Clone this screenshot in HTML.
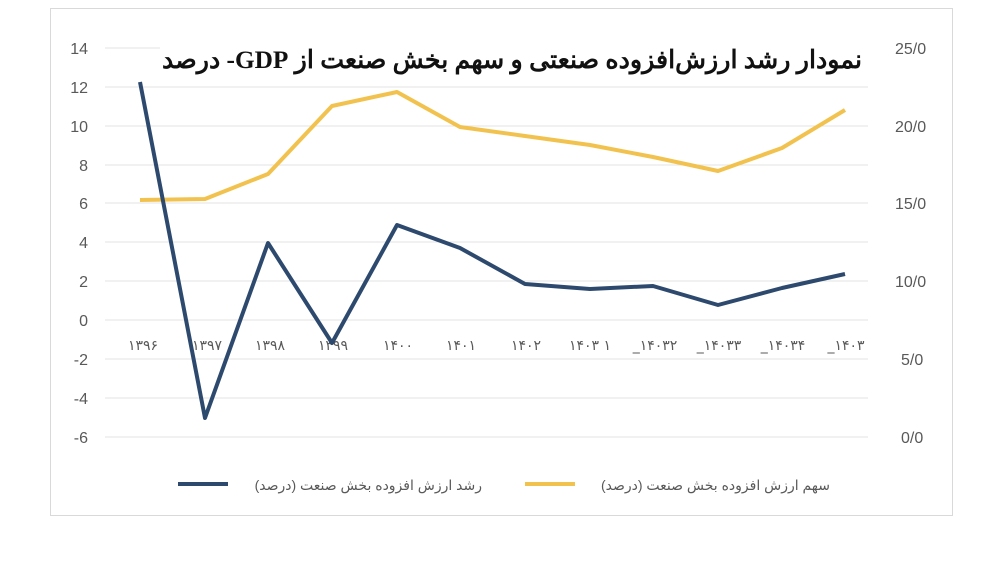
<!DOCTYPE html>
<html><head><meta charset="utf-8"><style>
body{margin:0;background:#fff;width:1003px;height:567px;overflow:hidden}
</style></head><body>
<svg width="1003" height="567" xmlns="http://www.w3.org/2000/svg" font-family="Liberation Sans, DejaVu Sans, sans-serif">
<rect x="50.5" y="8.5" width="902" height="507" fill="#fff" stroke="#d9d9d9"/>
<g stroke="#e3e3e3" stroke-width="1">
<line x1="105" x2="868" y1="48" y2="48"/><line x1="105" x2="868" y1="87" y2="87"/>
<line x1="105" x2="868" y1="126" y2="126"/><line x1="105" x2="868" y1="165" y2="165"/>
<line x1="105" x2="868" y1="203" y2="203"/><line x1="105" x2="868" y1="242" y2="242"/>
<line x1="105" x2="868" y1="281" y2="281"/><line x1="105" x2="868" y1="320" y2="320"/>
<line x1="105" x2="868" y1="359" y2="359"/><line x1="105" x2="868" y1="398" y2="398"/>
<line x1="105" x2="868" y1="437" y2="437"/>
</g>
<g font-size="16" fill="#595959" text-anchor="end">
<text x="88" y="54">14</text><text x="88" y="93">12</text><text x="88" y="132">10</text>
<text x="88" y="171">8</text><text x="88" y="209">6</text><text x="88" y="248">4</text>
<text x="88" y="287">2</text><text x="88" y="326">0</text><text x="88" y="365">-2</text>
<text x="88" y="404">-4</text><text x="88" y="443">-6</text>
</g>
<g font-size="16" fill="#595959">
<text x="895" y="54">25/0</text><text x="895" y="132">20/0</text><text x="895" y="209">15/0</text>
<text x="895" y="287">10/0</text><text x="901" y="365">5/0</text><text x="901" y="443">0/0</text>
</g>
<rect x="160" y="36" width="720" height="42" fill="#fff"/>
<text x="862" y="68" text-anchor="start" font-family="Liberation Serif, DejaVu Serif, serif" font-weight="bold" font-size="25" fill="#111" direction="rtl" textLength="700" lengthAdjust="spacingAndGlyphs">نمودار رشد ارزش‌افزوده صنعتی و سهم بخش صنعت از GDP- درصد</text>
<g font-size="14" fill="#595959" text-anchor="middle" font-family="DejaVu Sans, sans-serif">
<text x="143" y="350">۱۳۹۶</text><text x="207" y="350">۱۳۹۷</text><text x="270" y="350">۱۳۹۸</text>
<text x="333" y="350">۱۳۹۹</text><text x="398" y="350">۱۴۰۰</text><text x="461" y="350">۱۴۰۱</text>
<text x="526" y="350">۱۴۰۲</text><text x="590" y="350">۱۴۰۳ ۱</text><text x="655" y="350">_۱۴۰۳۲</text>
<text x="719" y="350">_۱۴۰۳۳</text><text x="783" y="350">_۱۴۰۳۴</text><text x="846" y="350">_۱۴۰۳</text>
</g>
<polyline fill="none" stroke="#f2c24f" stroke-width="4" stroke-linejoin="round" points="140,200 205,199 268,174 332,106 397,92 460,127 525,136 590,145 653,157 718,171 782,148 845,110"/>
<polyline fill="none" stroke="#2d4a6e" stroke-width="4" stroke-linejoin="round" points="140,82 205,418 268,243 332,343 397,225 460,248 525,284 590,289 653,286 718,305 782,288 845,274"/>
<line x1="178" x2="228" y1="484" y2="484" stroke="#2d4a6e" stroke-width="4"/>
<text x="482" y="490" text-anchor="start" font-size="14" fill="#595959" direction="rtl">رشد ارزش افزوده بخش صنعت (درصد)</text>
<line x1="525" x2="575" y1="484" y2="484" stroke="#f2c24f" stroke-width="4"/>
<text x="830" y="490" text-anchor="start" font-size="14" fill="#595959" direction="rtl">سهم ارزش افزوده بخش صنعت (درصد)</text>
</svg>
</body></html>
